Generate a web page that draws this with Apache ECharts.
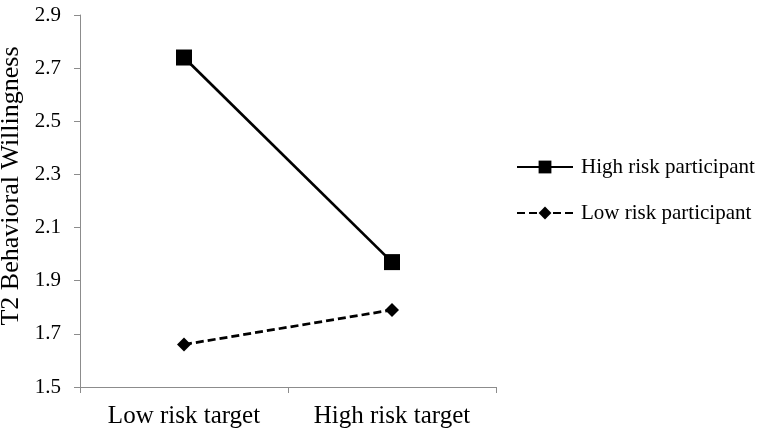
<!DOCTYPE html>
<html>
<head>
<meta charset="utf-8">
<script src="https://cdn.jsdelivr.net/npm/echarts@6.0.0/dist/echarts.min.js"></script>
<style>
  html, body { margin: 0; padding: 0; background: #fff; }
  #chart { width: 766px; height: 437px; }
</style>
</head>
<body>
<div id="chart"></div>
<script>
  // --- Data ---
  const categories = ['Low risk target', 'High risk target'];
  const highRiskParticipant = [2.74, 1.97];
  const lowRiskParticipant = [1.66, 1.79];

  const font = '"Liberation Serif", "Times New Roman", serif';
  const axisGray = '#8c8c8c';

  const chart = echarts.init(document.getElementById('chart'), null, { renderer: 'canvas' });

  chart.setOption({
    animation: false,
    grid: {
      left: 80, right: 270, top: 15, bottom: 50,
      containLabel: false,
      outerBoundsMode: 'none'
    },
    legend: {
      orient: 'vertical',
      left: 511,
      top: 151,
      itemWidth: 56,
      itemHeight: 16,
      itemGap: 24,
      textStyle: { fontFamily: font, fontSize: 21, lineHeight: 22, color: '#000', padding: [0, 0, 0, 3] },
      data: ['High risk participant', 'Low risk participant']
    },
    xAxis: {
      type: 'category',
      data: categories,
      boundaryGap: true,
      axisLine: { lineStyle: { color: axisGray, width: 1 } },
      axisTick: { show: true, length: 6, lineStyle: { color: axisGray } },
      axisLabel: { interval: 0, hideOverlap: false, fontFamily: font, fontSize: 25, color: '#000', margin: 17 }
    },
    yAxis: {
      type: 'value',
      min: 1.5,
      max: 2.9,
      interval: 0.2,
      name: 'T2 Behavioral Willingness',
      nameLocation: 'middle',
      nameGap: 44,
      nameTextStyle: { fontFamily: font, fontSize: 26, color: '#000', padding: [0, 0, 0, 30] },
      axisLine: { show: true, lineStyle: { color: axisGray, width: 1 } },
      axisTick: { show: true, length: 6, lineStyle: { color: axisGray } },
      splitLine: { show: false },
      axisLabel: {
        fontFamily: font, fontSize: 21, color: '#000', margin: 19,
        formatter: v => v.toFixed(1)
      }
    },
    series: [
      {
        name: 'High risk participant',
        type: 'line',
        data: highRiskParticipant,
        symbol: 'rect',
        symbolSize: 16,
        itemStyle: { color: '#000' },
        lineStyle: { color: '#000', width: 2.75 }
      },
      {
        name: 'Low risk participant',
        type: 'line',
        data: lowRiskParticipant,
        symbol: 'diamond',
        symbolSize: 14,
        itemStyle: { color: '#000' },
        lineStyle: { color: '#000', width: 2.75, type: [8, 4] }
      }
    ]
  });
</script>
</body>
</html>
